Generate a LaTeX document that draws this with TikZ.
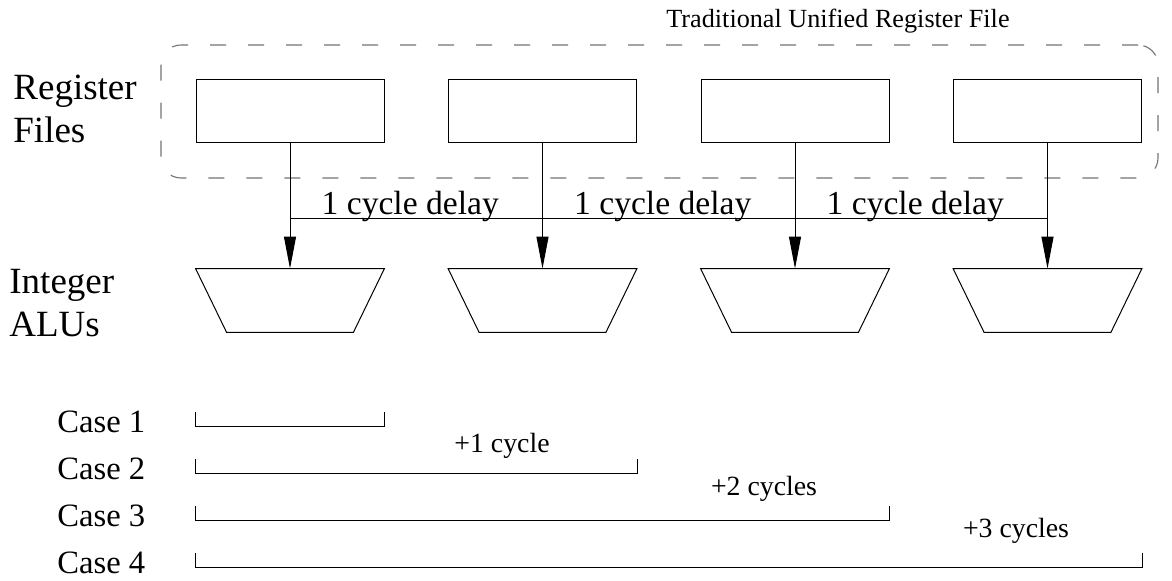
\documentclass[tikz,border=0pt]{standalone}
\usepackage{fontspec}
\setmainfont{Liberation Serif}
\usetikzlibrary{positioning, calc, arrows.meta}

\begin{document}
\begin{tikzpicture}[x=0.5pt, y=-0.5pt,
		regfile/.style={rectangle, draw, line width=0.5pt, inner sep=0pt, minimum width=94pt, minimum height=31.5pt},
		alu/.style={rectangle, inner sep=0pt, minimum width=94pt, minimum height=31.5pt},
		unified/.style={rectangle, draw=black!55, line width=0.55pt, dash pattern=on 8pt off 11pt, rounded corners=10pt, minimum width=498.5pt, minimum height=66.5pt},
		sidelbl/.style={inner sep=0pt, align=left, font=\fontsize{18.5}{21.5}\selectfont},
		caselbl/.style={inner sep=0pt, font=\fontsize{16.3}{18}\selectfont},
		cyclbl/.style={inner sep=0pt, font=\fontsize{13.9}{16}\selectfont},
		delaylbl/.style={inner sep=0pt, font=\fontsize{16.8}{18}\selectfont},
		titlelbl/.style={inner sep=0pt, font=\fontsize{13.1}{15}\selectfont},
		wire/.style={line width=0.5pt},
		>={Triangle[length=16pt, width=6pt]}
	]
	\useasboundingbox (0,0) rectangle (1172,581);

	\node[unified] (urf) at (659.5,111.5) {};
	\node[titlelbl, anchor=base] (title) at (838,28) {Traditional Unified Register File};

	\node[sidelbl, anchor=west] (rflbl) at (13,109) {Register\\Files};
	\node[sidelbl, anchor=west] (alulbl) at (9,303) {Integer\\ALUs};

	\foreach \i in {1,...,4} {
		\node[regfile] (rf\i) at ({290+252.5*(\i-1)},111.5) {};
		\node[alu] (alu\i) at ({290+252.5*(\i-1)},300.5) {};
		\draw[wire] (alu\i.north west) -- (alu\i.north east) -- ([xshift=-15.5pt]alu\i.south east) -- ([xshift=15.5pt]alu\i.south west) -- cycle;
		\coordinate (tap\i) at ({290+252.5*(\i-1)},219);
		\draw[wire, ->] (rf\i.south) -- (alu\i.north);
	}
	\draw[wire] (tap1) -- (tap4);

	\foreach \a/\b in {1/2, 2/3, 3/4}
		\node[delaylbl, anchor=base] (dl\a) at ($(tap\a)!0.5!(tap\b) + (-6,-4)$) {1 cycle delay};

	% cases
	\foreach \i/\y in {1/427, 2/474, 3/521, 4/568} {
		\node[caselbl, anchor=base west] (case\i) at (57,\y+6) {Case \i};
		\coordinate (cs\i) at (rf1.west |- 0,\y);
		\coordinate (ce\i) at (rf\i.east |- 0,\y);
		\draw[wire] (cs\i) ++(0,-15) -- (cs\i) -- (ce\i) -- ++(0,-15);
	}

	\node[cyclbl, anchor=base] (cyc1) at (502,453) {+1 cycle};
	\node[cyclbl, anchor=base] (cyc2) at (764,496) {+2 cycles};
	\node[cyclbl, anchor=base] (cyc3) at (1016,538) {+3 cycles};

\end{tikzpicture}
\end{document}
